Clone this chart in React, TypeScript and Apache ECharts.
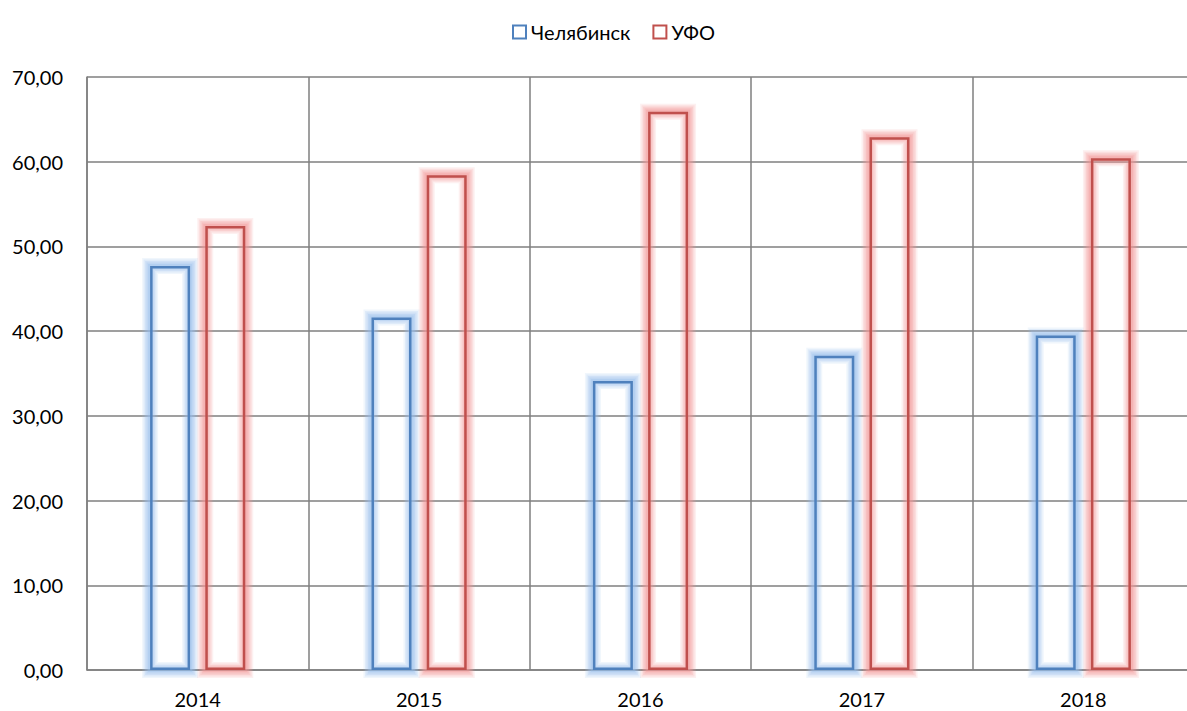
import React, { useEffect, useRef } from "react";
import * as echarts from "echarts";

const categories = ["2014", "2015", "2016", "2017", "2018"];
const chelyabinsk = [47.7, 41.6, 34.1, 37.1, 39.5];
const ufo = [52.4, 58.4, 65.9, 62.9, 60.4];
const seriesNames = ["Челябинск", "УФО"];

const FONT = "Lato";
const BAR_W = 40;
const GAP_RATIO = 0.38;

function glowSeries(values: number[], offset: number, rgb: string) {
  return {
    type: "custom",
    silent: true,
    z: 1,
    data: values.map((v, i) => [i, v]),
    encode: { x: 0, y: 1 },
    renderItem: (params: any, api: any) => {
      const top = api.coord([api.value(0), api.value(1)]);
      const base = api.coord([api.value(0), 0]);
      const x = top[0] + offset - BAR_W / 2;
      const y = top[1];
      const h = base[1] - top[1];
      const layers = [
        { w: 16, a: 0.14 },
        { w: 13, a: 0.18 },
        { w: 10, a: 0.22 },
        { w: 7, a: 0.26 },
        { w: 4, a: 0.3 },
      ];
      return {
        type: "group",
        children: layers.map((l) => ({
          type: "rect",
          shape: { x, y, width: BAR_W, height: h },
          style: { fill: "none", stroke: `rgba(${rgb},${l.a})`, lineWidth: l.w },
        })),
      };
    },
  };
}

export default function App() {
  const ref = useRef<HTMLDivElement>(null);
  useEffect(() => {
    const chart = echarts.init(ref.current!, null, { renderer: "svg" });
    const gridColor = "#7f7f7f";
    const half = (BAR_W * (1 + GAP_RATIO)) / 2;
    chart.setOption({
      animation: false,
      textStyle: { fontFamily: FONT },
      legend: {
        left: 507,
        top: 17,
        icon: "rect",
        itemWidth: 13,
        itemHeight: 13,
        itemGap: 22,
        textStyle: { fontFamily: FONT, fontSize: 20, color: "#000" },
        data: seriesNames.map((n) => ({ name: n, itemStyle: { borderWidth: 2 } })),
      },
      grid: { left: 87, top: 77, bottom: 41, width: 1107, containLabel: false },
      xAxis: {
        type: "category",
        data: categories,
        boundaryGap: true,
        axisLine: { show: true, lineStyle: { color: gridColor, width: 1.5 } },
        axisTick: { show: false },
        splitLine: { show: true, lineStyle: { color: gridColor, width: 1.5 } },
        axisLabel: { fontFamily: FONT, fontSize: 20, color: "#000", margin: 19 },
      },
      yAxis: {
        type: "value",
        min: 0,
        max: 70,
        interval: 10,
        axisLine: { show: true, lineStyle: { color: gridColor, width: 1.5 } },
        axisTick: { show: false },
        splitLine: { show: true, lineStyle: { color: gridColor, width: 1.5 } },
        axisLabel: {
          fontFamily: FONT,
          fontSize: 20,
          color: "#000",
          margin: 24,
          formatter: (v: number) => v.toFixed(2).replace(".", ","),
        },
      },
      series: [
        glowSeries(chelyabinsk, -half, "150,188,236"),
        glowSeries(ufo, half, "242,150,150"),
        {
          name: seriesNames[0],
          type: "bar",
          data: chelyabinsk,
          barWidth: BAR_W,
          barGap: `${GAP_RATIO * 100}%`,
          z: 3,
          itemStyle: {
            color: "rgba(255,255,255,0)",
            borderColor: "#4f81bd",
            borderWidth: 2.5,
          },
        },
        {
          name: seriesNames[1],
          type: "bar",
          data: ufo,
          barWidth: BAR_W,
          z: 3,
          itemStyle: {
            color: "rgba(255,255,255,0)",
            borderColor: "#c0504d",
            borderWidth: 2.5,
          },
        },
      ],
    });
    return () => chart.dispose();
  }, []);
  return (
    <div
      style={{ position: "absolute", left: 0, top: 0, width: 1187, height: 711, overflow: "hidden", background: "#fff" }}
    >
      <div ref={ref} style={{ width: 1200, height: 711 }} />
    </div>
  );
}
